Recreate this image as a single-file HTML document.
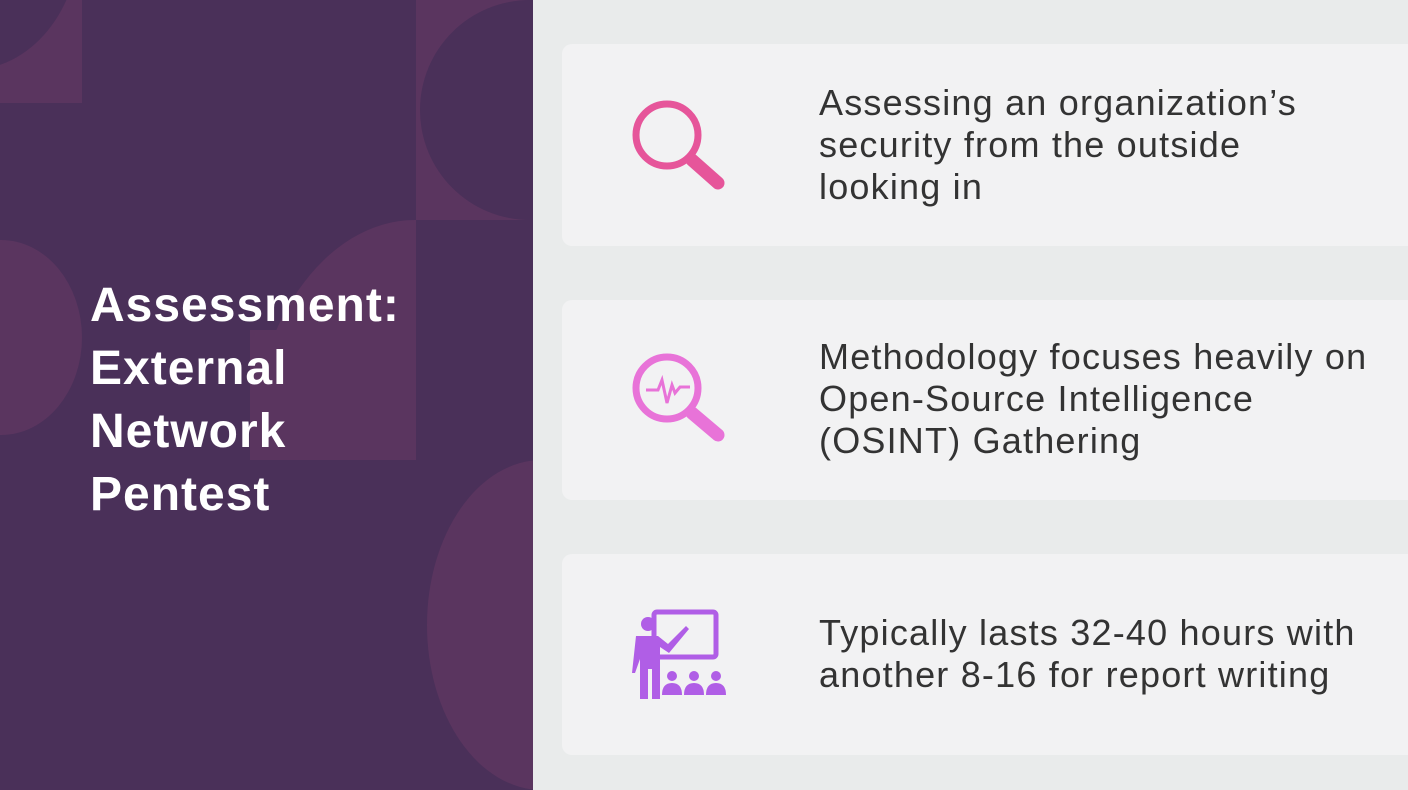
<!DOCTYPE html>
<html><head><style>
body{margin:0;width:1408px;height:790px;overflow:hidden;background:#e9ebeb;font-family:"Liberation Sans",sans-serif;position:relative}
.left{position:absolute;left:0;top:0;width:533px;height:790px;background:#4a3059;overflow:hidden}
.sh{position:absolute;background:#5a355f}
.dk{position:absolute;background:#4a3059;border-radius:50%}
.title{position:absolute;left:90px;top:274px;color:#fff;font-weight:bold;font-size:48px;line-height:63px;letter-spacing:1px}
.card{position:absolute;left:562px;width:860px;background:#f2f2f3;border-radius:10px}
.txt{position:absolute;left:819px;font-size:36px;line-height:42px;color:#333;letter-spacing:1.2px}
</style></head><body>
<div class="left">
 <div class="sh" style="left:0;top:0;width:82px;height:103px"></div>
 <div class="dk" style="left:-140px;top:-200px;width:220px;height:270px"></div>
 <div class="sh" style="left:416px;top:0;width:117px;height:220px"></div>
 <div class="dk" style="left:420px;top:0;width:220px;height:220px"></div>
 <div class="sh" style="left:-80px;top:240px;width:162px;height:195px;border-radius:50%;clip-path:inset(0 0 0 80px)"></div>
 <div class="sh" style="left:250px;top:220px;width:330px;height:240px;border-radius:50% 50% 0 0/100% 100% 0 0;clip-path:inset(0 164px 0 0)"></div>
 <div class="sh" style="left:250px;top:330px;width:166px;height:130px"></div>
 <div class="sh" style="left:427px;top:460px;width:230px;height:330px;border-radius:50%"></div>
</div>
<div class="title">Assessment:<br>External<br>Network<br>Pentest</div>

<div class="card" style="top:44px;height:202px"></div>
<div class="card" style="top:300px;height:200px"></div>
<div class="card" style="top:554px;height:201px"></div>

<svg style="position:absolute;left:620px;top:90px" width="120" height="110">
 <circle cx="47" cy="45" r="31" fill="none" stroke="#e6559a" stroke-width="7"/>
 <line x1="72" y1="70" x2="98" y2="93" stroke="#e6559a" stroke-width="13" stroke-linecap="round"/>
</svg>
<svg style="position:absolute;left:620px;top:345px" width="120" height="110">
 <circle cx="47" cy="43" r="31" fill="none" stroke="#e873d8" stroke-width="7"/>
 <polyline points="26,45 38,45 42,35 47,58 52,40 55,48 60,42 70,42" fill="none" stroke="#e873d8" stroke-width="3"/>
 <line x1="72" y1="68" x2="98" y2="90" stroke="#e873d8" stroke-width="13" stroke-linecap="round"/>
</svg>
<svg style="position:absolute;left:620px;top:600px" width="120" height="110">
 <rect x="34" y="12" width="62" height="45" rx="3" fill="none" stroke="#b05ee6" stroke-width="5"/>
 <circle cx="28" cy="24" r="7" fill="#b05ee6"/>
 <path d="M16 36 h22 l10 8 l18-18 l3 3 l-20 24 l-9-6 v52 h-8 v-30 h-4 v30 h-8 v-40 l-5 14 h-3z" fill="#b05ee6"/>
 <circle cx="52" cy="76" r="5" fill="#b05ee6"/><path d="M42 95 q0-12 10-12 q10 0 10 12z" fill="#b05ee6"/>
 <circle cx="74" cy="76" r="5" fill="#b05ee6"/><path d="M64 95 q0-12 10-12 q10 0 10 12z" fill="#b05ee6"/>
 <circle cx="96" cy="76" r="5" fill="#b05ee6"/><path d="M86 95 q0-12 10-12 q10 0 10 12z" fill="#b05ee6"/>
</svg>

<div class="txt" style="top:82px">Assessing an organization’s<br>security from the outside<br>looking in</div>
<div class="txt" style="top:336px">Methodology focuses heavily on<br>Open-Source Intelligence<br>(OSINT) Gathering</div>
<div class="txt" style="top:612px">Typically lasts 32-40 hours with<br>another 8-16 for report writing</div>
</body></html>
